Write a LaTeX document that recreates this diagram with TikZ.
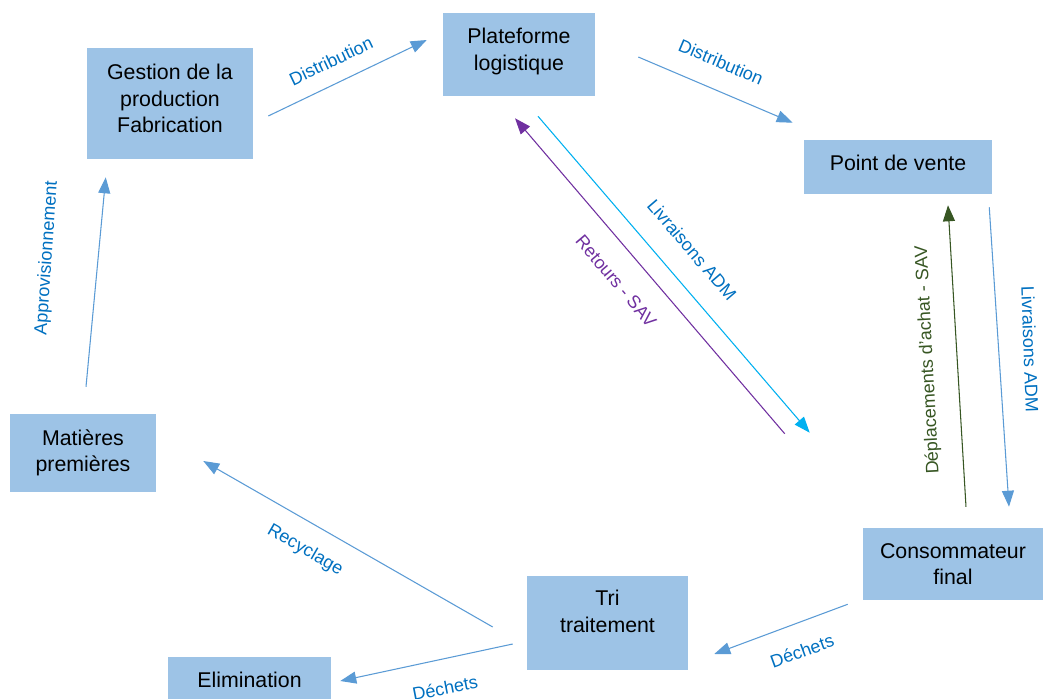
\documentclass[tikz,border=0pt]{standalone}
\usepackage{fontspec}
\setmainfont{Liberation Sans}
\usetikzlibrary{positioning}
\usetikzlibrary{calc}
\usetikzlibrary{arrows.meta}
\definecolor{boxblue}{HTML}{9DC3E6}
\definecolor{flowblue}{HTML}{5B9BD5}
\definecolor{textblue}{HTML}{0070C0}
\definecolor{admcyan}{HTML}{00B0F0}
\definecolor{savpurple}{HTML}{7030A0}
\definecolor{achatgreen}{HTML}{375623}
\tikzset{bloc/.style={fill=boxblue, align=center, inner sep=0pt, font=\fontsize{16}{20}\selectfont}}
\tikzset{flux/.style={draw=flowblue, line width=0.8pt, -{Triangle[length=12pt,width=9pt]}}}
\tikzset{lbl/.style={text=textblue, inner sep=0pt, font=\fontsize{13.5}{16}\selectfont}}

\begin{document}
\begin{tikzpicture}[x=0.75pt, y=-0.75pt]
        \useasboundingbox (0,0) rectangle (1043,699);
        % blocs
        \node[bloc, minimum width=124.5pt, minimum height=83.25pt, text depth=7.5pt] (Gest) at (170,103.5) {Gestion de la\\production\\Fabrication};
        \node[bloc, minimum width=114pt, minimum height=62.25pt, text depth=8pt] (Plat) at (519,54.5) {Plateforme\\logistique};
        \node[bloc, minimum width=141pt, minimum height=40.5pt, text depth=6pt] (PdV) at (898,167) {Point de vente};
        \node[bloc, minimum width=109.5pt, minimum height=58.5pt] (Mat) at (83,453) {Matières\\premières};
        \node[bloc, minimum width=135pt, minimum height=54pt] (Cons) at (953,564) {Consommateur\\final};
        \node[bloc, minimum width=120.75pt, minimum height=70.5pt, text depth=18pt] (Tri) at (607.5,623) {Tri\\traitement};
        \node[bloc, minimum width=122.25pt, minimum height=34.5pt] (Elim) at (249.5,680) {Elimination};
        % flux
        \draw[flux] ($(Gest.east)+(15,12.5)$) -- ($(Plat.west)+(-16,-14.5)$);
        \draw[flux] ($(Plat.east)+(43,2.5)$) -- ($(PdV.north west)+(-11,-17)$);
        \draw[flux, draw=admcyan] ($(Plat.south)+(19,20)$) -- ($(Cons.north west)+(-53,-95)$);
        \draw[flux, draw=savpurple] ($(Cons.north west)+(-78,-94)$) -- ($(Plat.south)+(-4,22)$);
        \draw[flux, draw=achatgreen] ($(Cons.north)+(13,-21)$) -- ($(PdV.south)+(50,11)$);
        \draw[flux] ($(PdV.south east)+(-3,13)$) -- ($(Cons.north)+(56,-21)$);
        \draw[flux] ($(Cons.south west)+(-15,4)$) -- ($(Tri.east)+(26,31)$);
        \draw[flux] ($(Tri.west)+(-14,21)$) -- ($(Elim.east)+(9,1)$);
        \draw[flux] ($(Tri.west)+(-34,4)$) -- ($(Mat.east)+(47,8)$);
        \draw[flux] ($(Mat.north)+(3,-27)$) -- ($(Gest.south west)+(19,18)$);
        % etiquettes
        \node[lbl, rotate=25.5] (dist1) at (331,61) {Distribution};
        \node[lbl, rotate=-23] (dist2) at (721,62) {Distribution};
        \node[lbl, rotate=-49.4] (liv1) at (692,250) {Livraisons ADM};
        \node[lbl, rotate=-49.7, text=savpurple] (ret) at (616,281) {Retours - SAV};
        \node[lbl, rotate=93, text=achatgreen] (depl) at (928,360) {Déplacements d'achat - SAV};
        \node[lbl, rotate=-88] (liv2) at (1030,349) {Livraisons ADM};
        \node[lbl, rotate=20] (dech1) at (802,651) {Déchets};
        \node[lbl, rotate=11] (dech2) at (445,688) {Déchets};
        \node[lbl, rotate=-30] (recy) at (305,550) {Recyclage};
        \node[lbl, rotate=86] (appro) at (47,258) {Approvisionnement};
    \end{tikzpicture}
\end{document}
